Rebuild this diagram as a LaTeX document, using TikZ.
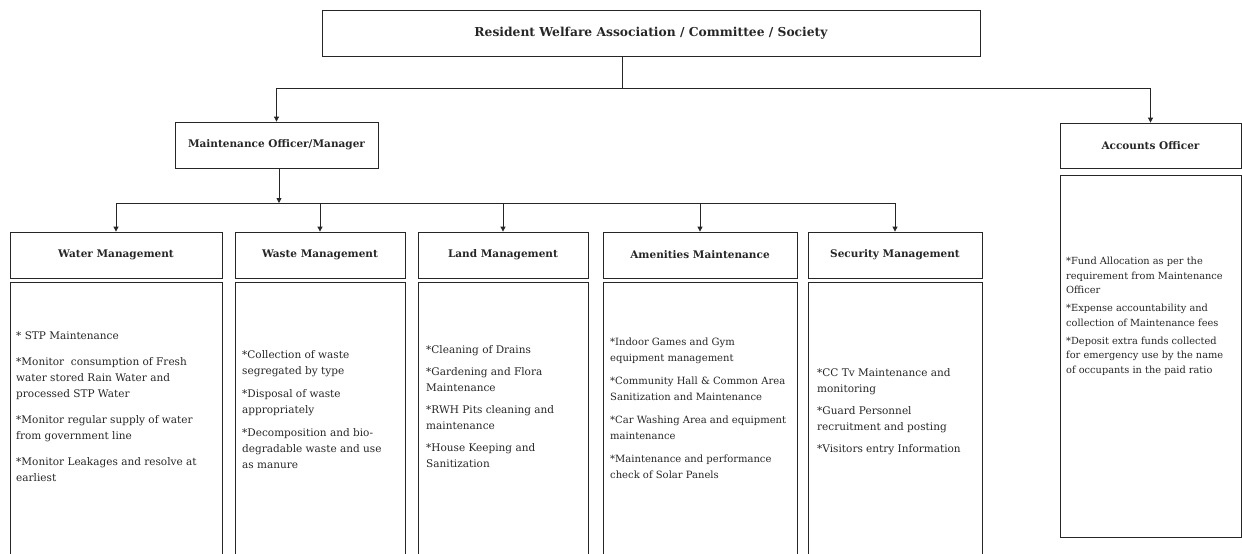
\documentclass[tikz,border=0pt]{standalone}
\usepackage{fontspec}
\setmainfont{DejaVu Serif}
\usetikzlibrary{arrows.meta}
\tikzset{
  box/.style={draw=black!85, line width=0.8pt, rectangle, inner sep=0pt},
  hdr/.style={font=\fontsize{10.5}{12}\selectfont\bfseries, text=black!85},
  tophdr/.style={font=\fontsize{12.3}{14}\selectfont\bfseries, text=black!85},
  body/.style={font=\fontsize{10.5}{16}\selectfont, text=black!85, align=left, anchor=west, inner sep=0pt},
  bodyam/.style={body, font=\fontsize{10}{16}\selectfont},
  smallbody/.style={font=\fontsize{9.8}{14.5}\selectfont, text=black!85, align=left, anchor=north west, inner sep=0pt},
  conn/.style={draw=black!85, line width=0.8pt},
  arr/.style={conn, -{Triangle[length=5pt,width=5pt]}}
}
\begin{document}
\begin{tikzpicture}[x=1pt,y=-1pt]
\useasboundingbox (0,0) rectangle (1242,554);
\clip (0,0) rectangle (1242,554);
% top
\node[box, minimum width=658pt, minimum height=46pt] (top) at (651,33) {};
\node[tophdr] (toptext) at (651,33) {Resident Welfare Association / Committee / Society};
% second level
\node[box, minimum width=203pt, minimum height=46pt] (mo) at (276.5,145) {};
\node[hdr] (motext) at (mo.center) {Maintenance Officer/Manager};
\node[box, minimum width=181pt, minimum height=45pt] (acc) at (1150.5,145.5) {};
\node[hdr] (acctext) at (acc.center) {Accounts Officer};
\node[box, minimum width=181pt, minimum height=362pt] (accb) at (1150.5,356) {};
\node[smallbody] (acct) at (1066,257) {*Fund Allocation as per the\\requirement from Maintenance\\Officer\\[3.5pt]*Expense accountability and\\collection of Maintenance fees\\[3.5pt]*Deposit extra funds collected\\for emergency use by the name\\of occupants in the paid ratio};
% connectors top
\coordinate (j1) at (622,88);
\draw[conn] (622,56) -- (j1);
\draw[arr] (j1) -| (mo.north);
\draw[arr] (j1) -| (acc.north);
% columns
\foreach \n/\l/\r/\t in {wm/10/222/Water Management, wa/235/405/Waste Management, lm/418/588/Land Management, am/603/797/Amenities Maintenance, sm/808/982/Security Management}{
  \pgfmathsetmacro{\w}{\r-\l}
  \pgfmathsetmacro{\c}{(\r+\l)/2}
  \node[box, minimum width=\w pt, minimum height=46pt] (\n) at (\c,255) {};
  \node[hdr] (\n text) at (\c,255) {\t};
  \node[box, minimum width=\w pt, minimum height=290pt] (\n b) at (\c,427) {};
}
\coordinate (j2) at (279,203);
\draw[arr] (mo.south -| j2) -- (j2);
\foreach \n in {wm,wa,lm,am,sm}{
  \draw[arr] (j2) -| (\n.north);
}
% body texts
\node[body] (wmt) at (16,407) {* STP Maintenance\\[10pt]*Monitor\ \ consumption of Fresh\\water stored Rain Water and\\processed STP Water\\[10pt]*Monitor regular supply of water\\from government line\\[10pt]*Monitor Leakages and resolve at\\earliest};
\node[body] (wat) at (242,410) {*Collection of waste\\segregated by type\\[7pt]*Disposal of waste\\appropriately\\[7pt]*Decomposition and bio-\\degradable waste and use\\as manure};
\node[body] (lmt) at (426,407) {*Cleaning of Drains\\[6pt]*Gardening and Flora\\Maintenance\\[6pt]*RWH Pits cleaning and\\maintenance\\[6pt]*House Keeping and\\Sanitization};
\node[bodyam] (amt) at (610,408) {*Indoor Games and Gym\\equipment management\\[7pt]*Community Hall \& Common Area\\Sanitization and Maintenance\\[7pt]*Car Washing Area and equipment\\maintenance\\[7pt]*Maintenance and performance\\check of Solar Panels};
\node[body] (smt) at (817,412) {*CC Tv Maintenance and\\monitoring\\[6pt]*Guard Personnel\\recruitment and posting\\[6pt]*Visitors entry Information};
\end{tikzpicture}
\end{document}
